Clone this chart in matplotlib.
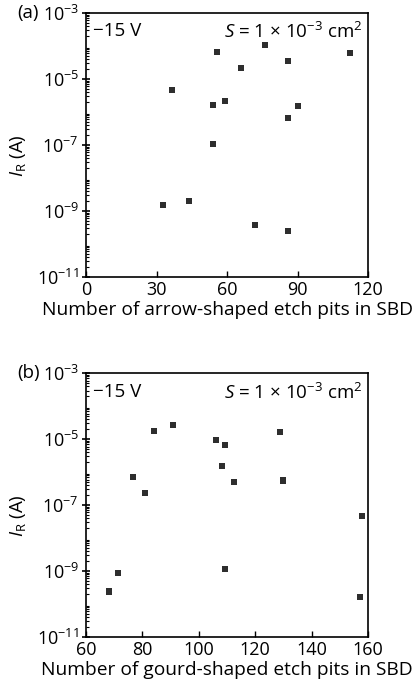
import matplotlib
matplotlib.use("Agg")
import matplotlib.pyplot as plt
from matplotlib.ticker import LogLocator, FixedLocator, NullFormatter

plt.rcParams['font.family'] = ['Open Sans', 'DejaVu Sans']
plt.rcParams['mathtext.fontset'] = 'custom'
plt.rcParams['mathtext.rm'] = 'Open Sans'
plt.rcParams['mathtext.it'] = 'Open Sans:italic'

# Panel (a): arrow-shaped etch pits
arrow_pits = [36.7, 55.9, 66.0, 76.2, 86.1, 112.2, 53.9, 59.0, 90.1, 86.1, 53.9, 32.8, 43.7, 72.0, 86.1]
arrow_ir = [4.7e-6, 6.4e-5, 2.2e-5, 1.07e-4, 3.5e-5, 6.3e-5, 1.6e-6, 2.15e-6, 1.5e-6, 6.5e-7,
            1.07e-7, 1.55e-9, 2.0e-9, 3.8e-10, 2.5e-10]

# Panel (b): gourd-shaped etch pits
gourd_pits = [84.2, 90.7, 106.0, 109.3, 128.7, 76.8, 81.0, 108.1, 112.5, 130.0, 157.8, 71.3, 68.0, 109.3, 157.0]
gourd_ir = [1.8e-5, 2.7e-5, 9.5e-6, 6.6e-6, 1.7e-5, 7.2e-7, 2.3e-7, 1.5e-6, 5.2e-7, 5.6e-7,
            4.6e-8, 8.9e-10, 2.4e-10, 1.15e-9, 1.6e-10]

arrow_xticks = [0, 30, 60, 90, 120]
gourd_xticks = [60, 80, 100, 120, 140, 160]
yticks = [1e-11, 1e-9, 1e-7, 1e-5, 1e-3]
ytick_labels = [r'$10^{-11}$', r'$10^{-9}$', r'$10^{-7}$', r'$10^{-5}$', r'$10^{-3}$']

fig = plt.figure(figsize=(4.17, 6.91), dpi=100)
W, H = 417, 691

def make_axes(top_px, bottom_px):
    left, right = 86, 368
    return fig.add_axes([left / W, 1 - bottom_px / H, (right - left) / W, (bottom_px - top_px) / H])

ax_a = make_axes(13, 277)
ax_b = make_axes(373.3, 637)

panels = [
    (ax_a, arrow_pits, arrow_ir, arrow_xticks, (0, 120), 'Number of arrow-shaped etch pits in SBD', '(a)'),
    (ax_b, gourd_pits, gourd_ir, gourd_xticks, (60, 160), 'Number of gourd-shaped etch pits in SBD', '(b)'),
]

fs = 13.5
for ax, xs, ys, xt, xlim, xlabel, tag in panels:
    ax.scatter(xs, ys, marker='s', s=19, color='#2e2e2e', edgecolors='none', zorder=3)
    ax.set_yscale('log')
    ax.set_ylim(1e-11, 1e-3)
    ax.set_xlim(*xlim)
    ax.set_xticks(xt)
    ax.set_xticklabels([str(v) for v in xt], fontsize=13)
    ax.yaxis.set_major_locator(FixedLocator(yticks))
    ax.set_yticklabels(ytick_labels, fontsize=13)
    ax.yaxis.set_minor_locator(LogLocator(base=10, subs=range(2, 10), numticks=20))
    ax.yaxis.set_minor_formatter(NullFormatter())
    ax.tick_params(axis='y', which='major', direction='inout', length=6, width=1.2, pad=2)
    ax.tick_params(axis='y', which='minor', direction='in', length=2.5, width=0.8)
    ax.tick_params(axis='x', which='major', direction='in', length=4, width=1.0, pad=3)
    ax.tick_params(top=False, right=False)
    for sp in ax.spines.values():
        sp.set_linewidth(1.2)
    ax.set_xlabel(xlabel, fontsize=13.8, labelpad=1)
    ax.set_ylabel(r'$I_{\mathrm{R}}$ (A)', fontsize=13.5)
    ax.yaxis.set_label_coords(-0.205, 0.46)
    ax.text(0.025, 0.965, '\u221215 V', transform=ax.transAxes, fontsize=fs, ha='left', va='top')
    ax.text(0.98, 0.965, '$S$ = 1 \u00d7 10$^{\u22123}$ cm$^{2}$',
            transform=ax.transAxes, fontsize=13.5, ha='right', va='top')
    ax.text(-0.245, 1.0, tag, transform=ax.transAxes, fontsize=fs, ha='left', va='center')

fig.savefig('out.png', dpi=100)
